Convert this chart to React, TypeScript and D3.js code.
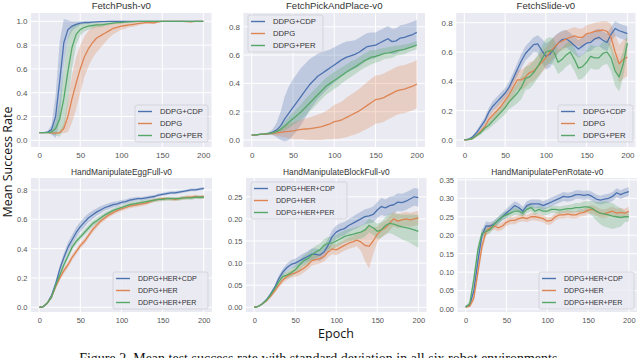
import React, { useRef, useEffect } from "react";
import * as d3 from "d3";

const EPOCHS = [0, 5, 10, 15, 20, 25, 30, 35, 40, 45, 50, 55, 60, 65, 70, 75, 80, 85, 90, 95, 100,
  105, 110, 115, 120, 125, 130, 135, 140, 145, 150, 155, 160, 165, 170, 175, 180, 185, 190, 195, 200];

const X_TICKS = [0, 50, 100, 150, 200];
const Y_TICKS_A = [0, 0.2, 0.4, 0.6, 0.8, 1.0];
const Y_TICKS_B = [0, 0.2, 0.4, 0.6, 0.8];
const Y_TICKS_C = [0, 0.05, 0.1, 0.15, 0.2, 0.25];
const Y_TICKS_D = [0, 0.05, 0.1, 0.15, 0.2, 0.25, 0.3, 0.35];

const LABELS_FETCH = ["DDPG+CDP", "DDPG", "DDPG+PER"];
const LABELS_HAND = ["DDPG+HER+CDP", "DDPG+HER", "DDPG+HER+PER"];

// FetchPush-v0
const pushCdp = [.065, .065, .068, .09, .2, .5, .82, .93, .96, .975, .985, .99, .99, .993, .995, .997, .998, 1, 1, 1, 1,
  1, 1, 1, 1, 1, 1, 1, 1, 1, 1, 1, 1, 1, 1, 1, 1, 1, 1, 1, 1];
const pushCdpStd = [.003, .003, .005, .04, .18, .33, .2, .08, .04, .025, .015, .01, .008, .006, .005, .004, .003, .002, .002, .002, .002,
  .002, .002, .002, .002, .002, .002, .002, .002, .002, .002, .002, .002, .002, .002, .002, .002, .002, .002, .002, .002];
const pushDdpg = [.065, .065, .065, .062, .06, .065, .1, .2, .35, .48, .6, .7, .77, .82, .86, .88, .9, .92, .94, .95, .96,
  .965, .97, .975, .98, .985, .99, .99, .987, .995, 1, 1, 1, 1, 1, 1, .998, .996, 1, 1, 1];
const pushDdpgStd = [.003, .003, .003, .005, .008, .01, .04, .13, .2, .22, .2, .17, .15, .13, .12, .1, .08, .06, .05, .04, .03,
  .025, .02, .02, .015, .012, .01, .012, .01, .006, .004, .003, .003, .003, .003, .003, .003, .003, .003, .003, .003];
const pushPer = [.065, .065, .065, .07, .1, .18, .35, .58, .78, .89, .93, .95, .96, .965, .97, .97, .975, .98, .985, .99, .99,
  .993, .995, .997, 1, 1, 1, 1, 1, 1, 1, 1, 1, 1, 1, 1, 1, 1, 1, 1, 1];
const pushPerStd = [.003, .003, .005, .02, .06, .15, .25, .28, .18, .09, .05, .035, .03, .025, .02, .02, .015, .012, .01, .008, .006,
  .005, .004, .003, .002, .002, .002, .002, .002, .002, .002, .002, .002, .002, .002, .002, .002, .002, .002, .002, .002];

// FetchPickAndPlace-v0
const ppCdp = [.035, .037, .04, .042, .045, .055, .07, .1, .15, .19, .23, .27, .31, .35, .39, .42, .45, .47, .49, .51, .53,
  .55, .57, .585, .595, .605, .62, .64, .66, .665, .67, .685, .7, .715, .695, .7, .72, .725, .735, .745, .76];
const ppCdpStd = [.003, .003, .004, .005, .008, .02, .05, .1, .16, .19, .2, .2, .2, .19, .18, .17, .16, .15, .14, .13, .125,
  .12, .115, .11, .105, .1, .1, .1, .095, .095, .09, .09, .09, .09, .09, .09, .09, .09, .09, .09, .09];
const ppDdpg = [.035, .037, .04, .042, .045, .047, .05, .055, .06, .062, .065, .07, .075, .078, .08, .085, .09, .095, .105, .115, .13,
  .135, .145, .16, .175, .19, .205, .225, .245, .265, .285, .29, .3, .315, .33, .345, .355, .36, .37, .38, .395];
const ppDdpgStd = [.003, .003, .004, .005, .008, .012, .02, .03, .04, .05, .06, .065, .07, .075, .08, .085, .09, .095, .1, .11, .12,
  .125, .13, .14, .145, .15, .155, .16, .165, .17, .17, .17, .17, .17, .17, .17, .17, .17, .17, .17, .17];
const ppPer = [.035, .037, .04, .043, .045, .05, .06, .075, .1, .125, .15, .175, .2, .23, .26, .29, .32, .35, .38, .4, .42,
  .44, .46, .48, .5, .515, .535, .555, .57, .585, .59, .6, .61, .615, .62, .63, .635, .64, .65, .66, .67];
const ppPerStd = [.003, .003, .004, .005, .008, .01, .015, .02, .03, .04, .045, .05, .055, .06, .06, .06, .06, .06, .06, .06, .06,
  .06, .055, .055, .055, .05, .05, .05, .05, .05, .045, .045, .04, .04, .04, .035, .035, .035, .03, .03, .03];

// FetchSlide-v0
const slideCdp = [0, .005, .02, .05, .09, .13, .19, .23, .26, .29, .32, .36, .42, .48, .54, .59, .62, .65, .655, .61, .57,
  .585, .625, .66, .685, .69, .67, .645, .62, .64, .66, .665, .69, .7, .68, .665, .72, .76, .745, .735, .725];
const slideCdpStd = [.002, .004, .008, .015, .02, .025, .03, .035, .035, .035, .035, .04, .04, .045, .05, .05, .05, .05, .06, .08, .09,
  .09, .08, .07, .06, .06, .06, .06, .06, .06, .06, .06, .06, .06, .06, .06, .05, .05, .05, .05, .05];
const slideDdpg = [0, .003, .01, .03, .06, .09, .14, .17, .2, .23, .27, .31, .36, .41, .41, .43, .46, .47, .5, .53, .56,
  .6, .63, .66, .675, .69, .7, .71, .7, .7, .725, .73, .74, .745, .75, .74, .7, .6, .52, .55, .565];
const slideDdpgStd = [.002, .003, .006, .01, .015, .02, .03, .035, .04, .045, .05, .055, .06, .065, .07, .07, .07, .07, .07, .07, .07,
  .07, .07, .065, .065, .06, .06, .06, .06, .06, .06, .06, .06, .06, .06, .07, .09, .12, .13, .13, .13];
const slidePer = [0, .003, .01, .03, .05, .08, .1, .13, .16, .19, .22, .26, .29, .32, .36, .42, .43, .46, .5, .55, .6,
  .61, .6, .53, .55, .58, .6, .55, .49, .5, .53, .57, .56, .56, .59, .6, .56, .47, .43, .52, .66];
const slidePerStd = [.002, .003, .006, .01, .015, .02, .025, .03, .035, .04, .045, .05, .06, .07, .08, .08, .08, .08, .08, .09, .09,
  .09, .09, .08, .08, .08, .08, .08, .08, .08, .08, .08, .08, .08, .08, .08, .09, .1, .1, .09, .07];

// HandManipulateEggFull-v0
const eggCdp = [0, .005, .03, .08, .16, .26, .34, .41, .46, .51, .55, .58, .61, .63, .65, .665, .68, .69, .7, .705, .715,
  .72, .73, .735, .74, .74, .745, .75, .755, .765, .77, .775, .78, .78, .785, .79, .795, .8, .8, .805, .81];
const eggCdpStd = [.002, .004, .008, .012, .02, .025, .03, .035, .035, .035, .035, .035, .03, .03, .025, .025, .02, .02, .02, .018, .016,
  .015, .015, .014, .013, .012, .012, .012, .01, .01, .01, .01, .01, .01, .01, .01, .01, .01, .01, .01, .01];
const eggHer = [0, .005, .03, .07, .14, .2, .25, .29, .34, .38, .42, .45, .49, .53, .56, .59, .61, .63, .645, .66, .67,
  .68, .69, .695, .7, .705, .71, .72, .73, .735, .74, .74, .74, .735, .74, .745, .75, .75, .755, .75, .755];
const eggHerStd = [.002, .004, .008, .012, .015, .018, .02, .02, .02, .02, .02, .02, .02, .02, .02, .018, .018, .016, .015, .015, .015,
  .015, .015, .015, .015, .015, .015, .013, .012, .012, .012, .012, .012, .012, .012, .012, .012, .012, .012, .012, .012];
const eggPer = [0, .005, .03, .07, .15, .22, .29, .35, .41, .45, .48, .51, .54, .57, .59, .61, .63, .645, .66, .67, .68,
  .69, .7, .705, .71, .715, .72, .725, .73, .735, .735, .74, .74, .74, .74, .745, .745, .745, .75, .75, .75];
const eggPerStd = [.002, .004, .008, .012, .015, .018, .02, .02, .02, .02, .02, .02, .02, .02, .02, .018, .018, .016, .015, .015, .015,
  .015, .015, .015, .015, .015, .015, .013, .012, .012, .012, .012, .012, .012, .012, .012, .012, .012, .012, .012, .012];

// HandManipulateBlockFull-v0
const blockCdp = [0, .002, .008, .017, .03, .045, .065, .08, .09, .097, .1, .105, .11, .115, .12, .12, .118, .125, .14, .16, .17,
  .175, .178, .185, .19, .195, .2, .205, .207, .21, .22, .228, .225, .23, .232, .238, .237, .24, .245, .25, .248];
const blockCdpStd = [.001, .001, .002, .003, .004, .005, .007, .008, .009, .01, .01, .011, .012, .012, .013, .013, .013, .014, .015, .015, .015,
  .015, .015, .015, .015, .016, .016, .017, .017, .018, .018, .019, .019, .02, .02, .02, .02, .02, .02, .02, .02];
const blockHer = [0, .002, .008, .015, .025, .037, .05, .062, .07, .075, .078, .082, .088, .095, .105, .108, .11, .115, .125, .132, .13,
  .135, .14, .145, .148, .152, .148, .14, .138, .15, .165, .175, .18, .19, .2, .195, .198, .2, .198, .2, .202];
const blockHerStd = [.001, .001, .002, .003, .004, .005, .006, .007, .008, .008, .009, .01, .01, .01, .011, .011, .011, .012, .012, .012, .012,
  .012, .012, .013, .013, .014, .02, .035, .05, .03, .018, .016, .016, .016, .016, .016, .016, .016, .016, .016, .016];
const blockPer = [0, .002, .008, .016, .028, .042, .058, .07, .073, .078, .085, .095, .105, .11, .118, .125, .13, .14, .145, .145, .15,
  .155, .16, .163, .165, .168, .17, .175, .185, .18, .172, .175, .185, .19, .188, .185, .182, .18, .178, .175, .172];
const blockPerStd = [.001, .001, .002, .003, .004, .005, .006, .007, .008, .009, .01, .011, .012, .013, .014, .014, .014, .014, .014, .014, .014,
  .014, .014, .014, .014, .014, .015, .015, .016, .016, .017, .018, .02, .022, .024, .026, .028, .03, .032, .035, .037];

// HandManipulatePenRotate-v0
const penCdp = [.007, .01, .05, .13, .2, .225, .225, .23, .24, .25, .26, .27, .28, .275, .265, .28, .285, .285, .285, .28, .285,
  .29, .295, .3, .305, .303, .305, .31, .31, .308, .31, .305, .298, .295, .298, .3, .305, .315, .31, .315, .318];
const penCdpStd = [.002, .004, .01, .015, .015, .012, .01, .01, .01, .01, .012, .012, .012, .012, .012, .012, .012, .012, .012, .012, .012,
  .012, .012, .012, .012, .012, .012, .012, .012, .012, .012, .012, .012, .012, .012, .012, .012, .012, .012, .012, .012];
const penHer = [.005, .008, .03, .1, .17, .21, .22, .225, .22, .225, .235, .24, .24, .245, .248, .245, .25, .25, .248, .245, .238,
  .24, .25, .255, .255, .258, .255, .255, .26, .262, .268, .27, .265, .26, .258, .262, .265, .26, .262, .26, .265];
const penHerStd = [.002, .004, .01, .015, .015, .012, .01, .01, .01, .01, .01, .01, .01, .01, .01, .01, .01, .01, .01, .01, .01,
  .01, .01, .01, .01, .01, .01, .01, .01, .01, .012, .012, .012, .012, .012, .012, .012, .012, .012, .012, .012];
const penPer = [.005, .015, .08, .16, .205, .21, .215, .23, .24, .25, .255, .26, .265, .265, .26, .27, .275, .265, .27, .265, .265,
  .27, .27, .268, .27, .272, .272, .275, .275, .277, .277, .273, .265, .26, .258, .255, .252, .25, .248, .25, .25];
const penPerStd = [.002, .006, .015, .015, .012, .01, .01, .01, .01, .01, .01, .01, .01, .01, .01, .01, .01, .01, .01, .01, .01,
  .01, .01, .01, .01, .01, .012, .012, .012, .015, .015, .02, .025, .03, .035, .035, .035, .03, .025, .015, .012];

const COLORS = ["#4C72B0", "#DD8452", "#55A868"];

const panels = [
  { title: "FetchPush-v0", means: [pushCdp, pushDdpg, pushPer], stds: [pushCdpStd, pushDdpgStd, pushPerStd],
    labels: LABELS_FETCH, yDomain: [-0.056, 1.07], yTicks: Y_TICKS_A, fmt: ".1f",
    left: 31, right: 211.5, top: 13, bottom: 147, legend: { x: 135, y: 105, w: 73 }, small: false },
  { title: "FetchPickAndPlace-v0", means: [ppCdp, ppDdpg, ppPer], stds: [ppCdpStd, ppDdpgStd, ppPerStd],
    labels: LABELS_FETCH, yDomain: [-0.049, 0.897], yTicks: Y_TICKS_B, fmt: ".1f",
    left: 243.5, right: 425, top: 13, bottom: 147, legend: { x: 248, y: 15, w: 75 }, small: false },
  { title: "FetchSlide-v0", means: [slideCdp, slideDdpg, slidePer], stds: [slideCdpStd, slideDdpgStd, slidePerStd],
    labels: LABELS_FETCH, yDomain: [-0.048, 0.866], yTicks: Y_TICKS_B, fmt: ".1f",
    left: 456.2, right: 635.5, top: 13, bottom: 147, legend: { x: 558, y: 105, w: 75 }, small: false },
  { title: "HandManipulateEggFull-v0", means: [eggCdp, eggHer, eggPer], stds: [eggCdpStd, eggHerStd, eggPerStd],
    labels: LABELS_HAND, yDomain: [-0.032, 0.881], yTicks: Y_TICKS_B, fmt: ".1f",
    left: 31, right: 212, top: 178, bottom: 312, legend: { x: 113, y: 272, w: 95 }, small: true },
  { title: "HandManipulateBlockFull-v0", means: [blockCdp, blockHer, blockPer], stds: [blockCdpStd, blockHerStd, blockPerStd],
    labels: LABELS_HAND, yDomain: [-0.0106, 0.2925], yTicks: Y_TICKS_C, fmt: ".2f",
    left: 246, right: 426.5, top: 178, bottom: 312, legend: { x: 251, y: 182, w: 96 }, small: true },
  { title: "HandManipulatePenRotate-v0", means: [penCdp, penHer, penPer], stds: [penCdpStd, penHerStd, penPerStd],
    labels: LABELS_HAND, yDomain: [-0.008, 0.355], yTicks: Y_TICKS_D, fmt: ".2f",
    left: 457.5, right: 637, top: 178, bottom: 312, legend: { x: 539, y: 272, w: 95 }, small: true },
];

const SANS = "'Liberation Sans', Arial, sans-serif";

const App = () => {
  const ref = useRef<SVGSVGElement>(null);

  useEffect(() => {
    const svg = d3.select(ref.current);
    svg.selectAll("*").remove();

    panels.forEach((p, i) => {
      const x = d3.scaleLinear().domain([-10, 210]).range([p.left, p.right]);
      const y = d3.scaleLinear().domain(p.yDomain).range([p.bottom, p.top]);
      const g = svg.append("g");

      // background
      g.append("rect")
        .attr("x", p.left).attr("y", p.top)
        .attr("width", p.right - p.left).attr("height", p.bottom - p.top)
        .attr("fill", "#EAEAF2");

      // white grid
      g.selectAll(null).data(X_TICKS).enter().append("line")
        .attr("x1", d => x(d)).attr("x2", d => x(d))
        .attr("y1", p.top).attr("y2", p.bottom)
        .attr("stroke", "#fff").attr("stroke-width", 1);
      g.selectAll(null).data(p.yTicks).enter().append("line")
        .attr("x1", p.left).attr("x2", p.right)
        .attr("y1", d => y(d)).attr("y2", d => y(d))
        .attr("stroke", "#fff").attr("stroke-width", 1);

      // clip to the axes box
      const clipId = `clip-${i}`;
      svg.append("clipPath").attr("id", clipId).append("rect")
        .attr("x", p.left).attr("y", p.top)
        .attr("width", p.right - p.left).attr("height", p.bottom - p.top);
      const plot = g.append("g").attr("clip-path", `url(#${clipId})`);

      // std bands
      p.means.forEach((m, k) => {
        const area = d3.area<number>()
          .x((_, j) => x(EPOCHS[j]))
          .y0((d, j) => y(d - p.stds[k][j]))
          .y1((d, j) => y(d + p.stds[k][j]));
        plot.append("path").datum(m)
          .attr("d", area)
          .attr("fill", COLORS[k])
          .attr("fill-opacity", 0.28);
      });

      // mean lines
      p.means.forEach((m, k) => {
        const line = d3.line<number>()
          .x((_, j) => x(EPOCHS[j]))
          .y(d => y(d));
        plot.append("path").datum(m)
          .attr("d", line)
          .attr("fill", "none")
          .attr("stroke", COLORS[k])
          .attr("stroke-width", 1.3)
          .attr("stroke-linejoin", "round");
      });

      const tickSize = p.small ? 7.5 : 8;

      // y axis labels
      const ya = g.append("g")
        .attr("transform", `translate(${p.left},0)`)
        .call(d3.axisLeft(y).tickValues(p.yTicks).tickSize(0).tickPadding(3.5).tickFormat(d3.format(p.fmt)));
      ya.select(".domain").remove();
      ya.selectAll("text").attr("font-family", SANS).attr("font-size", tickSize).attr("fill", "#555");

      // x axis labels
      const xa = g.append("g")
        .attr("transform", `translate(0,${p.bottom})`)
        .call(d3.axisBottom(x).tickValues(X_TICKS).tickSize(0).tickPadding(5.5).tickFormat(d3.format("d")));
      xa.select(".domain").remove();
      xa.selectAll("text").attr("font-family", SANS).attr("font-size", tickSize).attr("fill", "#555");

      // title
      g.append("text")
        .attr("x", (p.left + p.right) / 2)
        .attr("y", p.top - (p.small ? 3 : 4))
        .attr("text-anchor", "middle")
        .attr("font-family", SANS)
        .attr("font-size", p.small ? 8.4 : 9.6)
        .attr("fill", "#333")
        .text(p.title);

      // legend
      const lg = g.append("g").attr("transform", `translate(${p.legend.x},${p.legend.y})`);
      lg.append("rect")
        .attr("width", p.legend.w).attr("height", 37)
        .attr("rx", 2)
        .attr("fill", "#EAEAF2").attr("fill-opacity", 0.8)
        .attr("stroke", "#cfcfd6").attr("stroke-width", 0.8);
      p.labels.forEach((lab, k) => {
        const cy = 6.5 + k * 12;
        lg.append("line")
          .attr("x1", 3).attr("x2", 17)
          .attr("y1", cy).attr("y2", cy)
          .attr("stroke", COLORS[k]).attr("stroke-width", 1.4);
        lg.append("text")
          .attr("x", 25).attr("y", cy)
          .attr("dominant-baseline", "central")
          .attr("font-family", SANS)
          .attr("font-size", p.small ? 7.1 : 7.7)
          .attr("fill", "#333")
          .text(lab);
      });
    });

    // shared axis labels
    svg.append("text")
      .attr("transform", "translate(12,162) rotate(-90)")
      .attr("text-anchor", "middle")
      .attr("font-family", "'Open Sans', sans-serif")
      .attr("font-size", 12.5)
      .attr("fill", "#111")
      .text("Mean Success Rate");
    svg.append("text")
      .attr("x", 336).attr("y", 338)
      .attr("text-anchor", "middle")
      .attr("font-family", "'Open Sans', sans-serif")
      .attr("font-size", 12.5)
      .attr("fill", "#111")
      .text("Epoch");

    // caption (cut off by the image edge)
    svg.append("text")
      .attr("x", 320).attr("y", 363)
      .attr("text-anchor", "middle")
      .attr("font-family", "'Liberation Serif', serif")
      .attr("font-size", 14)
      .attr("fill", "#111")
      .text("Figure 2. Mean test success rate with standard deviation in all six robot environments.");
  }, []);

  return (
    <svg ref={ref} width={640} height={358} style={{ position: "absolute", left: 0, top: 0, background: "#fff" }} />
  );
};

export default App;
